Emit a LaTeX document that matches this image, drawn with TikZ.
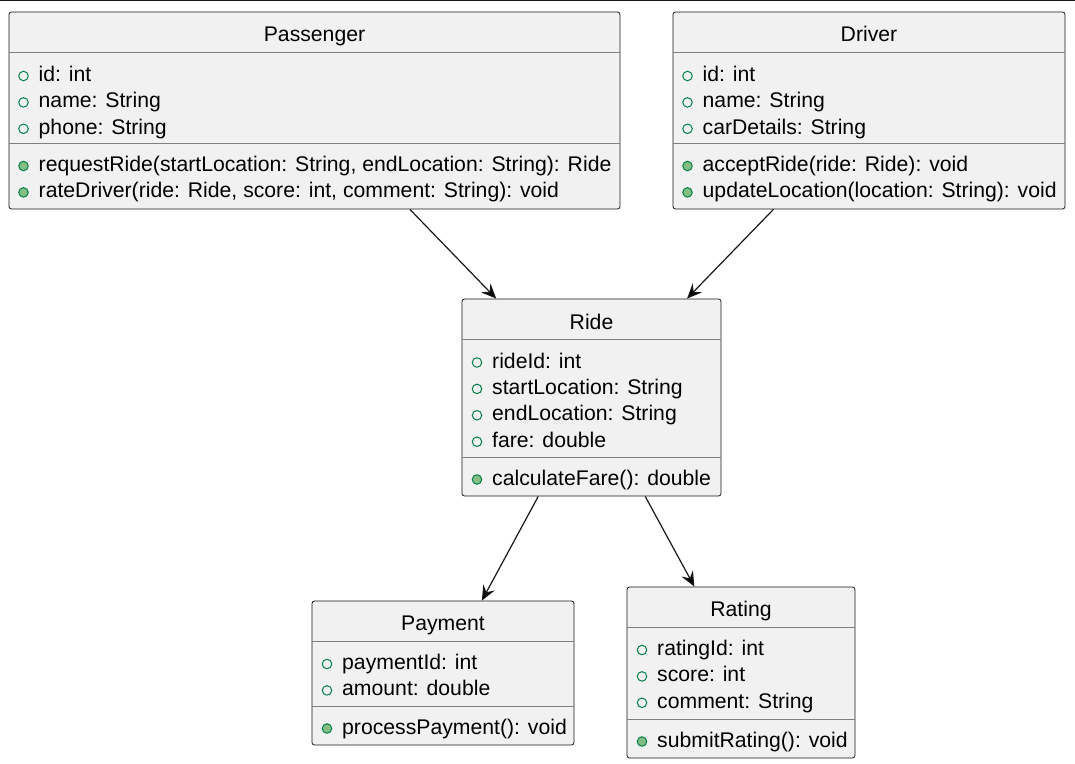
\documentclass[tikz,border=0pt]{standalone}
\usepackage{fontspec}
\setmainfont{Liberation Sans}
\usetikzlibrary{arrows.meta}
\definecolor{boxfill}{HTML}{F1F1F1}
\definecolor{boxline}{HTML}{181818}
\definecolor{fieldgreen}{HTML}{038048}
\definecolor{methodfill}{HTML}{84BE84}
\tikzset{
    classbox/.style={draw=boxline, fill=boxfill, rounded corners=2.5pt, line width=0.8pt, inner sep=0pt},
    classname/.style={anchor=base, inner sep=0pt, font=\fontsize{21.2}{26}\selectfont},
    member/.style={anchor=base west, inner sep=0pt, font=\fontsize{21.2}{26}\selectfont},
    field/.style={circle, draw=fieldgreen, line width=1pt, inner sep=0pt, minimum size=9.5pt},
    method/.style={field, fill=methodfill},
    divider/.style={draw=boxline!55, line width=0.8pt},
    assoc/.style={-{Stealth[length=15pt, width=13pt, inset=5.5pt]}, draw=boxline, line width=1.2pt},
}

\begin{document}
\begin{tikzpicture}[x=1pt, y=-1pt]
    \useasboundingbox (0,0) rectangle (1075,763);
    \draw[boxline, line width=2pt] (0,0) -- (1075,0);

    % class boxes
    \node[classbox, minimum width=611pt, minimum height=197pt] (passenger) at (314.5,110.5) {};
    \node[classbox, minimum width=392pt, minimum height=197pt] (driver) at (869,110.5) {};
    \node[classbox, minimum width=259pt, minimum height=197pt] (ride) at (591.5,397.5) {};
    \node[classbox, minimum width=262pt, minimum height=144pt] (payment) at (443,673) {};
    \node[classbox, minimum width=228pt, minimum height=171pt] (rating) at (741,672.5) {};

    % Passenger
    \node[classname] (passenger-name) at (314.5,41) {Passenger};
    \draw[divider] ([yshift=-40.5pt]passenger.north west) -- ([yshift=-40.5pt]passenger.north east);
    \foreach \txt [count=\i from 0] in {id: int, name: String, phone: String} {
        \node[field] (passenger-fc\i) at (23.5,{76+26.4*\i}) {};
        \node[member] (passenger-f\i) at (38.5,{81.5+26.4*\i}) {\txt};
    }
    \draw[divider] ([yshift=-132pt]passenger.north west) -- ([yshift=-132pt]passenger.north east);
    \foreach \txt [count=\i from 0] in {{requestRide(startLocation: String, endLocation: String): Ride},
                                        {rateDriver(ride: Ride, score: int, comment: String): void}} {
        \node[method] (passenger-mc\i) at (23.5,{166+26.4*\i}) {};
        \node[member] (passenger-m\i) at (38.5,{171.5+26.4*\i}) {\txt};
    }

    % Driver
    \node[classname] (driver-name) at (869,41) {Driver};
    \draw[divider] ([yshift=-40.5pt]driver.north west) -- ([yshift=-40.5pt]driver.north east);
    \foreach \txt [count=\i from 0] in {id: int, name: String, carDetails: String} {
        \node[field] (driver-fc\i) at (687.5,{76+26.4*\i}) {};
        \node[member] (driver-f\i) at (702.5,{81.5+26.4*\i}) {\txt};
    }
    \draw[divider] ([yshift=-132pt]driver.north west) -- ([yshift=-132pt]driver.north east);
    \foreach \txt [count=\i from 0] in {{acceptRide(ride: Ride): void}, {updateLocation(location: String): void}} {
        \node[method] (driver-mc\i) at (687.5,{166+26.4*\i}) {};
        \node[member] (driver-m\i) at (702.5,{171.5+26.4*\i}) {\txt};
    }

    % Ride
    \node[classname] (ride-name) at (591.5,329) {Ride};
    \draw[divider] ([yshift=-40.5pt]ride.north west) -- ([yshift=-40.5pt]ride.north east);
    \foreach \txt [count=\i from 0] in {rideId: int, startLocation: String, endLocation: String, fare: double} {
        \node[field] (ride-fc\i) at (477,{362.5+26.4*\i}) {};
        \node[member] (ride-f\i) at (492,{368+26.4*\i}) {\txt};
    }
    \draw[divider] ([yshift=-159pt]ride.north west) -- ([yshift=-159pt]ride.north east);
    \node[method] (ride-mc0) at (477,479.5) {};
    \node[member] (ride-m0) at (492,485) {calculateFare(): double};

    % Payment
    \node[classname] (payment-name) at (443,630) {Payment};
    \draw[divider] ([yshift=-40.5pt]payment.north west) -- ([yshift=-40.5pt]payment.north east);
    \foreach \txt [count=\i from 0] in {paymentId: int, amount: double} {
        \node[field] (payment-fc\i) at (327,{664+26.4*\i}) {};
        \node[member] (payment-f\i) at (342,{669.5+26.4*\i}) {\txt};
    }
    \draw[divider] ([yshift=-106pt]payment.north west) -- ([yshift=-106pt]payment.north east);
    \node[method] (payment-mc0) at (327,728.5) {};
    \node[member] (payment-m0) at (342,734) {processPayment(): void};

    % Rating
    \node[classname] (rating-name) at (741,616) {Rating};
    \draw[divider] ([yshift=-40.5pt]rating.north west) -- ([yshift=-40.5pt]rating.north east);
    \foreach \txt [count=\i from 0] in {ratingId: int, score: int, comment: String} {
        \node[field] (rating-fc\i) at (642,{650+26.4*\i}) {};
        \node[member] (rating-f\i) at (657,{655.5+26.4*\i}) {\txt};
    }
    \draw[divider] ([yshift=-133pt]rating.north west) -- ([yshift=-133pt]rating.north east);
    \node[method] (rating-mc0) at (642,741.5) {};
    \node[member] (rating-m0) at (657,747) {submitRating(): void};

    % associations
    \path[assoc]
        (passenger) edge (ride)
        (driver) edge (ride)
        (ride) edge (payment)
            edge (rating);
\end{tikzpicture}
\end{document}
